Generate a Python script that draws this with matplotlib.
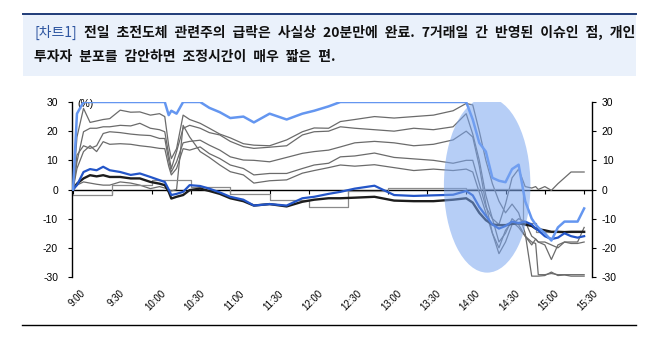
import matplotlib
matplotlib.use("Agg")
import matplotlib.pyplot as plt
from matplotlib.patches import Ellipse, Rectangle
from matplotlib.lines import Line2D

# minutes after 9:00
minutes = [0, 3, 8, 13, 18, 23, 28, 36,
           44, 51, 59, 66, 70, 73, 75, 79,
           84, 89, 97, 104, 112, 120, 130, 138,
           150, 163, 175, 184, 195, 204, 215, 230,
           245, 260, 275, 290, 300, 305, 310, 315,
           320, 325, 330, 335, 340, 345, 350, 353,
           355, 360, 365, 370, 375, 380, 385, 390]

light_blue = [0, 26, 30, 30, 30, 30, 30, 30,
              30, 30, 30, 30, 30, 25.5, 27, 26,
              30, 30, 30, 28, 26.5, 24.5, 25, 23,
              26, 24, 26, 27, 28.5, 30, 30, 30,
              30, 30, 30, 30, 30, 24, 16, 13,
              4, 3, 2.5, 7, 8.5, -4, -10, -12,
              -13, -15, -17.5, -13, -11, -11, -11, -6.5]

dark_blue = [0, 1.5, 6, 7, 6.6, 7.8, 6.6, 6,
             5, 5.5, 4.3, 3.2, 2.6, 0, -1.9, -1.5,
             -0.8, 1.5, 1.2, 0.3, -1, -2.5, -3.5, -5.5,
             -5, -5.5, -3, -2.5, -1.5, -0.8, 0.3, 1.3,
             -1.9, -2.2, -2, -1.8, -0.5, -2, -6, -9,
             -12, -13.4, -12.5, -11, -11.5, -11, -12, -13.4,
             -14, -16, -17, -16.5, -15, -16, -16.5, -16]

black = [0, 2, 3.8, 4.9, 4.5, 4.9, 4.3, 4.3,
         3.8, 3.8, 2.6, 2, 1.5, -0.8, -3.1, -2.5,
         -1.9, -0.2, 0.3, -0.5, -1.5, -3, -4, -5.5,
         -5, -5.8, -4.2, -3.5, -3, -3, -2.8, -2.5,
         -3.8, -4, -4, -3.5, -3, -4.5, -8, -10.5,
         -12, -12.2, -12.2, -11.8, -11.6, -12, -12.5, -13.4,
         -13.6, -14, -14.5, -14.5, -14.6, -14.5, -14.5, -14.5]

gray1 = [0, 18, 27.8, 23, 23.5, 24, 24.3, 27.2,
         26.5, 26.6, 25.5, 26, 25, 15, 10.6, 14,
         25.5, 24, 22.7, 21, 19, 17.7, 15.7, 15.2,
         15, 17, 19.8, 21.1, 21, 23.3, 24, 25,
         24.5, 25, 25.5, 27, 29.5, 29, 20, 10,
         2, -4, -8, -5, -8, -15, -29.7, -29.7,
         -29.7, -29.5, -28.3, -29.5, -29.3, -29.7, -29.7, -29.7]

gray2 = [0, 9.5, 19.8, 21, 21, 21.5, 21.5, 22,
         21.8, 22.7, 21, 20.5, 19.8, 12, 7.2, 13,
         21, 22, 21, 19.5, 18.7, 16.5, 14.7, 14.1,
         14.5, 15, 18.7, 19.8, 20, 21.5, 21, 20.5,
         20, 21, 20.5, 21.5, 26, 19, 10, -2,
         -10, -18, -15, -10, -12, -16, -18, -18.5,
         -29.2, -29.2, -28.8, -29.2, -29.2, -29.2, -29.2, -29.2]

gray3 = [0, 11.8, 15, 14.1, 15, 19.2, 19.8, 19.5,
         19, 18.7, 18.5, 17.5, 17.5, 10, 6, 9.5,
         16, 16.5, 16.9, 15.2, 13.5, 11.2, 10.1, 10,
         9.5, 11, 12.4, 13, 13.5, 14.6, 16, 16.5,
         16, 15, 15.5, 17, 20, 18, 8, -5,
         -15, -22, -18, -12, -10, -11, -16, -17,
         -18, -19, -24, -19, -18, -18, -18, -13]

gray4 = [0, 7.2, 13, 15, 13, 16.4, 15.5, 15.7,
         15.5, 15, 14.6, 14.1, 14, 8, 5, 7.2,
         14, 13.5, 14.6, 12.3, 10.6, 8.4, 7.2, 5,
         5.5, 5.5, 7.2, 8.4, 9, 11.2, 11.5, 12.5,
         11, 10.5, 10, 9, 10, 10, 2, -6,
         -10, -12, -5, 4, 7, 1, 0.5, 1,
         0, 1, -0.3, 2, 4, 6, 6, 6]

gray5 = [0, 1.5, 2.6, 2.2, 1.8, 1.5, 1.5, 2.6,
         2.2, 1.5, 0.3, 1, 0.5, 0, -0.5, 0,
         22, 18, 13, 11, 8.4, 6.1, 5, 2.2,
         3, 3.3, 5.6, 6.5, 7.5, 8.4, 8, 8.5,
         7.5, 6.5, 7, 6.5, 7, 6, -1, -8,
         -15, -20, -14, -11, -13, -16, -19, -17,
         -18, -18, -19, -20, -18, -18.5, -18.5, -18]

# thinly traded name, shown as steps
step_minutes = [0, 30, 60, 90, 120, 150, 180, 210, 240, 270, 300, 343, 353, 390]
step_values = [-1.9, 1.5, 3.2, 1.0, -1.5, -3.6, -5.9, -0.4, 0.5, 0.5, 0.3, -11.4, -14.4, -14.4]

tick_minutes = [0, 30, 60, 90, 120, 150, 180, 210, 240, 270, 300, 330, 360, 390]
tick_labels = ['9:00', '9:30', '10:00', '10:30', '11:00', '11:30', '12:00',
               '12:30', '13:00', '13:30', '14:00', '14:30', '15:00', '15:30']
y_ticks = [30, 20, 10, 0, -10, -20, -30]

sp = '\u2002'
title_tag = '[차트1]'
title_line1 = sp + sp.join(['전일', '초전도체', '관련주의', '급락은', '사실상', '20분만에', '완료.',
                            '7거래일', '간', '반영된', '이슈인', '점,', '개인'])
title_line2 = sp.join(['투자자', '분포를', '감안하면', '조정시간이', '매우', '짧은', '편.'])

kr_font = ['Noto Sans CJK KR', 'DejaVu Sans']
num_font = ['Liberation Sans', 'DejaVu Sans']

fig = plt.figure(figsize=(6.58, 3.46), dpi=100)

# title box
fig.patches.append(Rectangle((0.035, 0.7803), 0.9316, 0.1792, transform=fig.transFigure,
                             facecolor='#eaf1fb', edgecolor='none', zorder=0))
fig.lines.append(Line2D([0.035, 0.9666], [0.9595, 0.9595], transform=fig.transFigure,
                        color='#1f3c78', lw=1.4))
fig.lines.append(Line2D([0.0334, 0.9666], [0.0607, 0.0607], transform=fig.transFigure,
                        color='black', lw=1.0))

t1 = fig.text(0.0517, 0.9075, title_tag, color='#2d55a0', fontsize=10,
              family=kr_font, va='center', ha='left')
fig.add_artist(plt.Annotation(title_line1, xy=(1, 0.5), xycoords=t1, va='center', ha='left',
                              fontsize=10, fontweight='heavy', family=kr_font, color='#111111'))
fig.text(0.0517, 0.835, title_line2, fontsize=10, fontweight='heavy', family=kr_font,
         color='#111111', va='center', ha='left')

ax = fig.add_axes([0.1094, 0.1994, 0.7903, 0.5058])
ax.set_xlim(-0.8, 396)
ax.set_ylim(-30, 30)

for g in [gray1, gray2, gray3, gray4, gray5]:
    ax.plot(minutes, g, color='#6b6b6b', lw=0.9, zorder=2)
ax.plot(step_minutes, step_values, color='#8a8a8a', lw=0.9, drawstyle='steps-post', zorder=2)
ax.plot(minutes, black, color='#1c1c1c', lw=1.7, zorder=3)
ax.plot(minutes, dark_blue, color='#2355c8', lw=1.6, zorder=3)
ax.plot(minutes, light_blue, color='#6496f0', lw=1.8, zorder=4)

ax.add_patch(Ellipse((316, 1.5), 66, 60, facecolor='#7aa6f0', edgecolor='none',
                     alpha=0.55, zorder=5))

# axes styling
ax.spines['top'].set_visible(False)
ax.spines['right'].set_visible(False)
ax.spines['bottom'].set_position(('data', 0))
ax.spines['bottom'].set_linewidth(1.0)
ax.spines['bottom'].set_zorder(1)
ax.spines['left'].set_linewidth(1.0)
ax.set_xticks(tick_minutes)
ax.set_xticklabels([])
ax.tick_params(axis='x', direction='out', length=3, width=0.8)
ax.set_yticks(y_ticks)
ax.set_yticklabels([str(v) for v in y_ticks], fontsize=7.5, family=num_font)
ax.tick_params(axis='y', direction='out', length=3, width=0.8, pad=7)

for tm, lab in zip(tick_minutes, tick_labels):
    ax.text(tm + 3, -0.065, lab, transform=ax.get_xaxis_transform(), rotation=45,
            ha='center', va='top', fontsize=7, family=num_font)

ax.text(3, 31, '(%)', fontsize=7.5, family=num_font, va='top', ha='left')

ax2 = ax.twinx()
ax2.set_ylim(-30, 30)
for s in ['top', 'bottom', 'left']:
    ax2.spines[s].set_visible(False)
ax2.spines['right'].set_linewidth(1.0)
ax2.set_yticks(y_ticks)
ax2.set_yticklabels([str(v) for v in y_ticks], fontsize=7.5, family=num_font)
ax2.tick_params(axis='y', direction='out', length=3, width=0.8, pad=4)

fig.savefig('out.png', dpi=100)
